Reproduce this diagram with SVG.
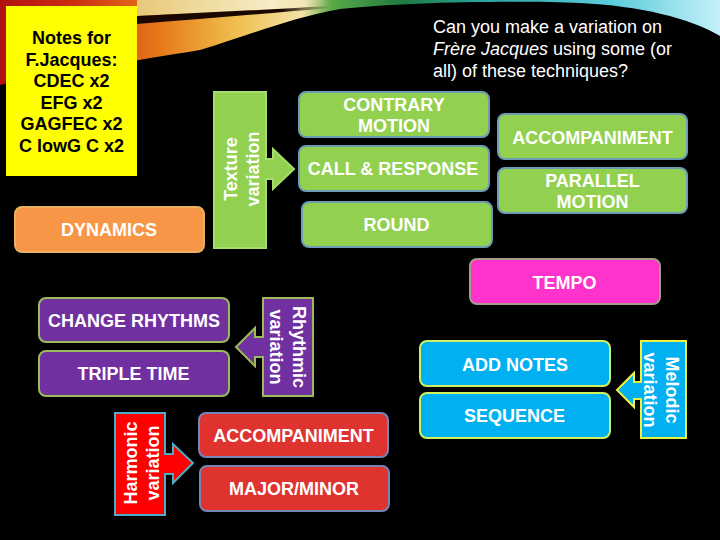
<svg xmlns="http://www.w3.org/2000/svg" width="720" height="540" viewBox="0 0 720 540">
<defs>
<linearGradient id="swoosh" x1="0" y1="0" x2="720" y2="0" gradientUnits="userSpaceOnUse">
<stop offset="0" stop-color="#b01010"/>
<stop offset="0.1" stop-color="#cc2c10"/>
<stop offset="0.22" stop-color="#e67818"/>
<stop offset="0.33" stop-color="#f0c050"/>
<stop offset="0.42" stop-color="#f2e2a8"/>
<stop offset="0.46" stop-color="#5aa848"/>
<stop offset="0.56" stop-color="#1e7a40"/>
<stop offset="0.68" stop-color="#2aa8a8"/>
<stop offset="0.85" stop-color="#5cccdc"/>
<stop offset="1" stop-color="#c4f0f8"/>
</linearGradient>
<linearGradient id="cream" x1="137" y1="0" x2="330" y2="0" gradientUnits="userSpaceOnUse">
<stop offset="0" stop-color="#e8c878"/>
<stop offset="0.7" stop-color="#f6eec8"/>
<stop offset="1" stop-color="#f6eec8" stop-opacity="0"/>
</linearGradient>
<linearGradient id="streak" x1="137" y1="0" x2="330" y2="0" gradientUnits="userSpaceOnUse">
<stop offset="0" stop-color="#1a0800"/>
<stop offset="0.75" stop-color="#1a0800"/>
<stop offset="1" stop-color="#1a0800" stop-opacity="0"/>
</linearGradient>
</defs>
<style>
.t{font-family:"Liberation Sans",Arial,sans-serif;font-weight:bold;fill:#fff;text-anchor:middle;font-size:18px}
.q{font-family:"Liberation Sans",Arial,sans-serif;fill:#fff;font-size:18px}
.n{font-family:"Liberation Sans",Arial,sans-serif;font-weight:bold;fill:#000;text-anchor:middle;font-size:18px}
.g{fill:#92D050;stroke:#6b9cb4;stroke-width:2}
.gc{fill:#92D050;stroke:#a6dc6a;stroke-width:2}
.o{fill:#F79646;stroke:#e8b060;stroke-width:2}
.p{fill:#7030A0;stroke:#9BBB59;stroke-width:2}
.r{fill:#DF3330;stroke:#7585b8;stroke-width:2}
.rc{fill:#FF0000;stroke:#4BACC6;stroke-width:2}
.m{fill:#FF33CC;stroke:#a89a88;stroke-width:2}
.c{fill:#00B0F0;stroke:#ccf060;stroke-width:2}
.cc{fill:#00B0F0;stroke:#f0f040;stroke-width:2}
</style>
<rect width="720" height="540" fill="#000"/>
<path d="M0,0 H720 V36 C690,18 640,6 580,3 C520,0 400,2 340,9 C290,18 250,35 200,50 C140,60 60,72 0,85 Z" fill="url(#swoosh)"/>
<path d="M137,0 H330 V6 C260,10 200,13 137,16 Z" fill="url(#cream)"/>
<path d="M137,16 C200,13 260,10 330,6 L330,8 C260,14 200,19 137,24 Z" fill="url(#streak)"/>

<g id="notes">
<rect x="6" y="6" width="131" height="170" fill="#FFFF00"/>
<text class="n" x="71.5" y="44">Notes for</text>
<text class="n" x="71.5" y="66">F.Jacques:</text>
<text class="n" x="71.5" y="87">CDEC x2</text>
<text class="n" x="71.5" y="109">EFG x2</text>
<text class="n" x="71.5" y="130">GAGFEC x2</text>
<text class="n" x="71.5" y="152">C lowG C x2</text>
</g>

<g id="question">
<text class="q" x="433" y="33">Can you make a variation on</text>
<text class="q" x="433" y="55"><tspan font-style="italic">Frère Jacques</tspan> using some (or</text>
<text class="q" x="433" y="77">all) of these techniques?</text>
</g>

<g id="dynamics">
<rect class="o" x="15" y="207" width="189" height="45" rx="7"/>
<text class="t" x="109" y="236">DYNAMICS</text>
</g>

<g id="texture">
<path class="gc" d="M214,92 H266 V159 H273 V149 L294,169 L273,189 V179 H266 V248 H214 Z"/>
<text class="t" transform="translate(237,169) rotate(-90)">Texture</text>
<text class="t" transform="translate(259,169) rotate(-90)">variation</text>
</g>

<g id="contrary">
<rect class="g" x="299" y="92" width="190" height="45" rx="7"/>
<text class="t" x="394" y="111">CONTRARY</text>
<text class="t" x="394" y="132">MOTION</text>
</g>
<g id="call">
<rect class="g" x="299" y="146" width="190" height="45" rx="7"/>
<text class="t" x="393" y="175">CALL &amp; RESPONSE</text>
</g>
<g id="round">
<rect class="g" x="302" y="202" width="190" height="45" rx="7"/>
<text class="t" x="396.5" y="231">ROUND</text>
</g>
<g id="accompaniment-texture">
<rect class="g" x="498" y="114" width="189" height="45" rx="7"/>
<text class="t" x="592.5" y="144" font-size="16">ACCOMPANIMENT</text>
</g>
<g id="parallel">
<rect class="g" x="498" y="168" width="189" height="45" rx="7"/>
<text class="t" x="592.5" y="187">PARALLEL</text>
<text class="t" x="592.5" y="208">MOTION</text>
</g>

<g id="tempo">
<rect class="m" x="470" y="259" width="190" height="45" rx="7"/>
<text class="t" x="564.5" y="289">TEMPO</text>
</g>

<g id="change-rhythms">
<rect class="p" x="39" y="298" width="190" height="44" rx="7"/>
<text class="t" x="134" y="327">CHANGE RHYTHMS</text>
</g>
<g id="triple-time">
<rect class="p" x="39" y="351" width="190" height="45" rx="7"/>
<text class="t" x="133.5" y="380">TRIPLE TIME</text>
</g>
<g id="rhythmic">
<path class="p" d="M263,298 H313 V396 H263 V357 H255 V366 L236,347 L255,328 V337 H263 Z"/>
<text class="t" transform="translate(293,347) rotate(90)">Rhythmic</text>
<text class="t" transform="translate(270,347) rotate(90)">variation</text>
</g>

<g id="harmonic">
<path class="rc" d="M115,413 H165 V454 H173 V444 L193,463 L173,483 V474 H165 V515 H115 Z"/>
<text class="t" transform="translate(137,463) rotate(-90)">Harmonic</text>
<text class="t" transform="translate(159,463) rotate(-90)">variation</text>
</g>
<g id="accompaniment-harmonic">
<rect class="r" x="199" y="413" width="189" height="44" rx="7"/>
<text class="t" x="293.5" y="442" font-size="16">ACCOMPANIMENT</text>
</g>
<g id="major-minor">
<rect class="r" x="200" y="466" width="189" height="45" rx="7"/>
<text class="t" x="294" y="495">MAJOR/MINOR</text>
</g>

<g id="add-notes">
<rect class="c" x="420" y="341" width="190" height="45" rx="7"/>
<text class="t" x="515" y="371">ADD NOTES</text>
</g>
<g id="sequence">
<rect class="c" x="420" y="393" width="190" height="45" rx="7"/>
<text class="t" x="514.5" y="422">SEQUENCE</text>
</g>
<g id="melodic">
<path class="cc" d="M641,341 H686 V438 H641 V399 H634 V407 L617,390 L634,373 V382 H641 Z"/>
<text class="t" transform="translate(666,390) rotate(90)">Melodic</text>
<text class="t" transform="translate(644,390) rotate(90)">variation</text>
</g>

<g id="connectors"/>
</svg>
